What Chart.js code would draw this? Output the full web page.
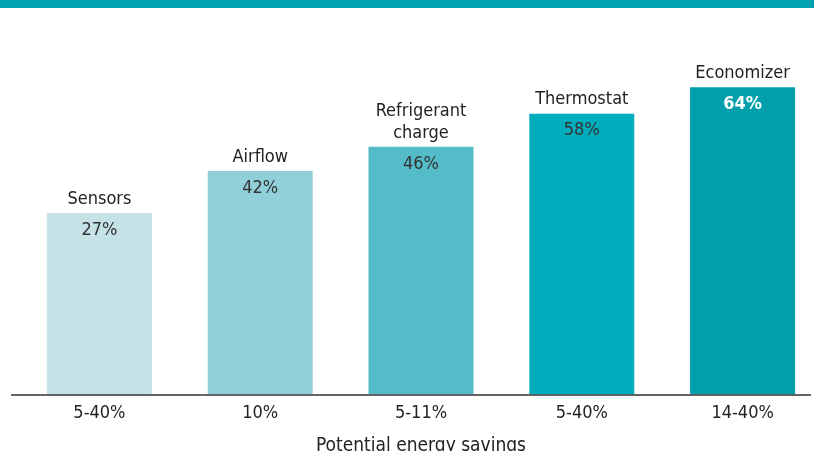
<!DOCTYPE html>
<html>
<head>
<meta charset="utf-8">
<script src="https://cdn.jsdelivr.net/npm/chart.js@4/dist/chart.umd.min.js"></script>
<style>
  html, body { margin: 0; padding: 0; background: #fff; }
  #wrap { position: relative; width: 814px; height: 451px; overflow: hidden; }
  #band { position: absolute; left: 0; top: 0; width: 814px; height: 8px; background: #00a2b1; }
  #chart { position: absolute; left: 0; top: 0; }
</style>
</head>
<body>
<div id="wrap">
  <canvas id="chart" width="830" height="457"></canvas>
  <div id="band"></div>
</div>
<script>
// data
const measures = ['Sensors', 'Airflow', 'Refrigerant\ncharge', 'Thermostat', 'Economizer'];
const savingsRanges = ['5-40%', '10%', '5-11%', '5-40%', '14-40%'];
const shares = [27, 42, 46, 58, 64];
// bar heights as drawn in the picture, on a 0-100 scale of the plot height
const barLevels = [50.5, 62.2, 68.9, 78.1, 85.5];
const barColors = ['#c5e3e7', '#92d0d9', '#54bcc8', '#00adbd', '#009fab'];

const FONT = "'Liberation Sans Narrow', 'DejaVu Sans Condensed', sans-serif";

const barText = {
  id: 'barText',
  afterDatasetsDraw(chart) {
    const ctx = chart.ctx;
    const bars = chart.getDatasetMeta(0).data;
    ctx.save();
    ctx.textAlign = 'center';
    ctx.textBaseline = 'middle';
    bars.forEach((bar, i) => {
      // name above the bar
      const lines = measures[i].split('\n');
      ctx.font = '18px ' + FONT;
      ctx.fillStyle = '#222';
      lines.forEach((line, j) => {
        const y = bar.y - 14 - (lines.length - 1 - j) * 22;
        ctx.fillText(line, bar.x, y);
      });
      // share inside the bar
      const last = i === bars.length - 1;
      ctx.font = (last ? 'bold ' : '') + '18px ' + FONT;
      ctx.fillStyle = last ? '#fff' : '#333';
      ctx.fillText(shares[i] + '%', bar.x, bar.y + 17);
    });
    // baseline
    const y = chart.scales.y.getPixelForValue(0);
    ctx.strokeStyle = '#333';
    ctx.lineWidth = 1.5;
    ctx.beginPath();
    ctx.moveTo(11, y + 0.5);
    ctx.lineTo(811, y + 0.5);
    ctx.stroke();
    ctx.restore();
  }
};

new Chart(document.getElementById('chart'), {
  type: 'bar',
  data: {
    labels: savingsRanges,
    datasets: [{
      data: barLevels,
      backgroundColor: barColors,
      borderWidth: 0,
      categoryPercentage: 1,
      barPercentage: 0.653
    }]
  },
  options: {
    responsive: false,
    animation: false,
    layout: { padding: { top: 35, left: 19, right: 7, bottom: 0 } },
    plugins: {
      legend: { display: false },
      tooltip: { enabled: false }
    },
    scales: {
      y: { display: false, min: 0, max: 100 },
      x: {
        grid: { display: false, drawTicks: false },
        border: { display: false },
        ticks: { color: '#222', font: { family: FONT, size: 18 }, padding: 8 },
        title: {
          display: true,
          text: 'Potential energy savings',
          color: '#222',
          font: { family: FONT, size: 19 },
          padding: { top: 2, bottom: 0 }
        }
      }
    }
  },
  plugins: [barText]
});
</script>
</body>
</html>
